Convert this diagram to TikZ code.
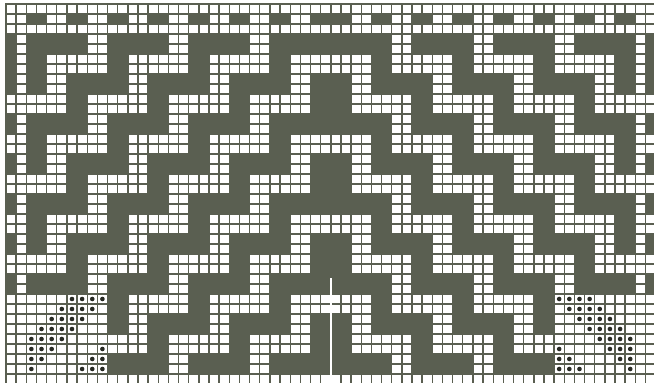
\documentclass[tikz,border=0pt]{standalone}
\definecolor{dk}{RGB}{90,95,81}
\definecolor{dotc}{RGB}{40,42,36}
\def\W{10.15}
\def\H{10}
\newcommand\WR[4]{%
  \fill[white] ({6+(#1)*\W},{4+(#3)*\H}) rectangle ({6+((#2)+1)*\W},{4+((#4)+1)*\H});
  \fill[white] ({6+(63-(#2))*\W},{4+(#3)*\H}) rectangle ({6+(64-(#1))*\W},{4+((#4)+1)*\H});
}
\newcommand\DT[2]{% col, row
  \fill[dotc] ({6+((#1)+0.5)*\W},{4+((#2)+0.5)*\H}) circle (2.3);
  \fill[dotc] ({6+(63-(#1)+0.5)*\W},{4+((#2)+0.5)*\H}) circle (2.3);
}
\begin{document}
\begin{tikzpicture}[x=1pt,y=-1pt]
\useasboundingbox (0,0) rectangle (654,385);
\clip (0,0) rectangle (654,385);
\fill[white] (0,0) rectangle (654,385);
\fill[dk] (6,4) rectangle ({6+64*\W},374);
% top band
\WR{0}{31}{0}{0}
\WR{0}{31}{2}{2}
\foreach \a in {0,4,...,28} {\WR{\a}{\a+1}{1}{1}}
% rows 5-6 (col 0 dark)
\foreach \a/\b in {1/1,4/9,12/17,20/25,28/31} {\WR{\a}{\b}{5}{6}}
% horizontal rows, odd m
\foreach \r in {13,21,29} {\foreach \a/\b in {0/1,4/9,12/17,20/25,28/31} {\WR{\a}{\b}{\r}{\r+1}}}
% horizontal rows, even m
\foreach \r in {9,17,25,33} {\foreach \a/\b in {0/5,8/13,16/21,24/29} {\WR{\a}{\b}{\r}{\r+1}}}
% vertical rows, even m
\foreach \r in {3,11,19,27,35} {\foreach \a/\b in {1/1,8/9,16/17,24/25} {\WR{\a}{\b}{\r}{\r+1}}}
% vertical rows, odd m
\foreach \r in {7,15,23,31} {\foreach \a/\b in {1/1,4/5,12/13,20/21,28/29} {\WR{\a}{\b}{\r}{\r+1}}}
% dotted block
\WR{0}{9}{29}{36}
% grid lines
\foreach \c in {0,...,64} {\draw[dk,line width=1.4] ({6+\c*\W},4) -- ({6+\c*\W},374);}
\foreach \r in {0,...,37} {\draw[dk,line width=1.4] (6,{4+\r*\H}) -- ({6+64*\W},{4+\r*\H});}
\draw[dk,line width=2] (5.5,3.3) -- (5.5,374);
\draw[dk,line width=2] (5,3.8) -- ({6+64*\W},3.8);
\draw[dk,line width=1.8] (5,374) -- ({6+64*\W},374);
% ticks
\foreach \c in {0,...,64} {\draw[dk,line width=1.4] ({6+\c*\W},374) -- ({6+\c*\W},382.5);}
% dots
\foreach \r in {29,...,36} {
  \foreach \k in {0,...,3} {
    \pgfmathtruncatemacro\cc{2+mod(35-\r+\k-2+16,8)}
    \DT{\cc}{\r}
  }
}
% centre seam
\draw[white,line width=1.6] (331,278) -- (331,385);
\end{tikzpicture}
\end{document}
